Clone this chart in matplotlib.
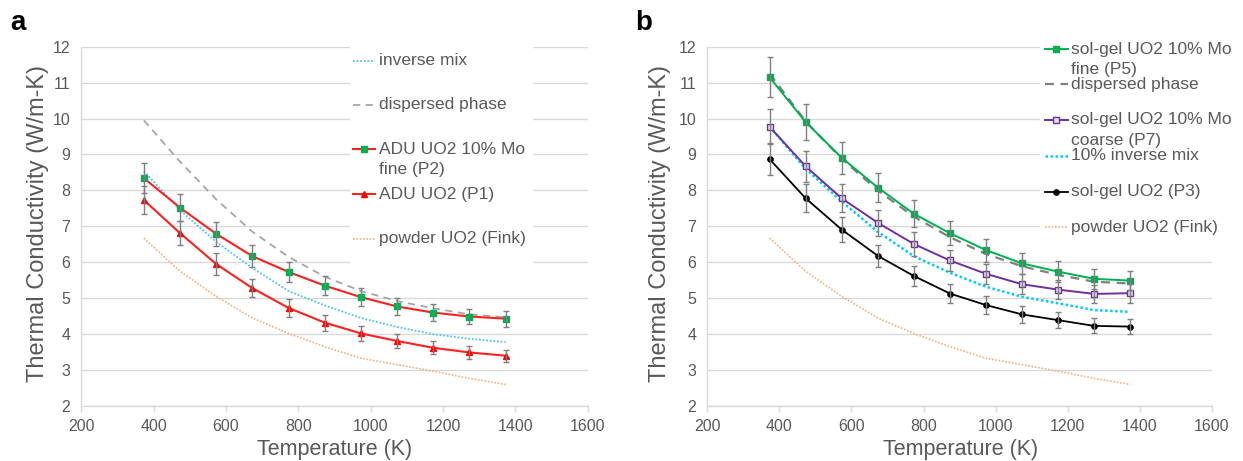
import matplotlib
matplotlib.use('Agg')
import matplotlib.pyplot as plt
from matplotlib.lines import Line2D
from matplotlib.patches import Rectangle

plt.rcParams['font.family'] = ['Liberation Sans', 'DejaVu Sans']

# Temperatures (K)
temps = [373, 473, 573, 673, 773, 873, 973, 1073, 1173, 1273, 1373]

# Panel a
a_inverse_mix = [8.54, 7.45, 6.57, 5.84, 5.20, 4.80, 4.45, 4.20, 4.00, 3.87, 3.78]
a_dispersed = [9.95, 8.80, 7.75, 6.85, 6.15, 5.60, 5.20, 4.92, 4.72, 4.55, 4.47]
a_p2 = [8.34, 7.52, 6.79, 6.17, 5.73, 5.35, 5.03, 4.77, 4.60, 4.49, 4.43]
a_p2_err = [0.42, 0.38, 0.34, 0.31, 0.29, 0.27, 0.25, 0.24, 0.23, 0.22, 0.22]
a_p1 = [7.73, 6.81, 5.95, 5.28, 4.73, 4.32, 4.02, 3.81, 3.62, 3.49, 3.40]
a_p1_err = [0.39, 0.34, 0.30, 0.26, 0.24, 0.22, 0.20, 0.19, 0.18, 0.17, 0.17]

# Fink correlation (both panels)
fink = [6.67, 5.75, 5.05, 4.45, 4.02, 3.65, 3.33, 3.15, 2.97, 2.77, 2.60]

# Panel b
b_p5 = [11.15, 9.90, 8.91, 8.08, 7.35, 6.81, 6.34, 5.97, 5.74, 5.54, 5.49]
b_p5_err = [0.56, 0.50, 0.45, 0.40, 0.37, 0.34, 0.32, 0.30, 0.29, 0.28, 0.27]
b_dispersed = [11.25, 9.92, 8.88, 8.00, 7.27, 6.70, 6.23, 5.89, 5.65, 5.46, 5.41]
b_p7 = [9.77, 8.67, 7.78, 7.10, 6.51, 6.05, 5.68, 5.39, 5.24, 5.12, 5.14]
b_p7_err = [0.49, 0.43, 0.39, 0.36, 0.33, 0.30, 0.28, 0.27, 0.26, 0.26, 0.26]
b_inverse_mix = [9.78, 8.60, 7.69, 6.85, 6.17, 5.71, 5.32, 5.04, 4.86, 4.67, 4.62]
b_p3 = [8.87, 7.78, 6.91, 6.18, 5.62, 5.13, 4.81, 4.55, 4.39, 4.23, 4.21]
b_p3_err = [0.44, 0.39, 0.35, 0.31, 0.28, 0.26, 0.24, 0.23, 0.22, 0.21, 0.21]

TXT = '#595959'
GRID = '#d9d9d9'
ERR = '#7f7f7f'

# line styles shared by plot and legend
S_FINK = dict(color='#f4b183', linestyle=(0, (1, 1)), linewidth=1.2)
S_INV_A = dict(color='#4fc3f7', linestyle=(0, (1, 1)), linewidth=1.3)
S_DISP_A = dict(color='#a6a6a6', linestyle=(0, (4, 3)), linewidth=1.3)
S_INV_B = dict(color='#00ccff', linestyle=(0, (1, 1)), linewidth=1.8)
S_DISP_B = dict(color='#808080', linestyle=(0, (4, 3)), linewidth=1.6)
S_P2 = dict(color='#ff2020', linewidth=1.5, marker='s', markersize=4.2,
            markerfacecolor='#00b050', markeredgecolor='#00b050')
S_P1 = dict(color='#ff2020', linewidth=1.5, marker='^', markersize=4.8,
            markerfacecolor='#ff0000', markeredgecolor='#ff0000')
S_P5 = dict(color='#00b050', linewidth=1.4, marker='s', markersize=4.0,
            markerfacecolor='#00b050', markeredgecolor='#00b050')
S_P7 = dict(color='#7030a0', linewidth=1.4, marker='s', markersize=4.0,
            markerfacecolor='#e6dcf0', markeredgecolor='#7030a0')
S_P3 = dict(color='#000000', linewidth=1.3, marker='o', markersize=3.8,
            markerfacecolor='#000000', markeredgecolor='#000000')


def style_axes(ax):
    ax.set_xlim(200, 1600)
    ax.set_ylim(2, 12)
    ax.set_xticks(range(200, 1601, 200))
    ax.set_yticks(range(2, 13))
    ax.grid(axis='y', color=GRID, linewidth=1.0)
    ax.set_axisbelow(True)
    for s in ['top', 'right']:
        ax.spines[s].set_visible(False)
    for s in ['left', 'bottom']:
        ax.spines[s].set_color(GRID)
        ax.spines[s].set_linewidth(1.0)
    ax.tick_params(axis='x', colors=GRID, length=4, width=1, labelcolor=TXT,
                   labelsize=11.5, pad=5)
    ax.tick_params(axis='y', length=0, labelcolor=TXT, labelsize=11.5, pad=8)
    ax.set_xlabel('Temperature (K)', fontsize=15.5, color=TXT)
    ax.set_ylabel('Thermal Conductivity (W/m-K)', fontsize=17, color=TXT)


def draw_legend(ax, box, handle_x, text_x, entries, lines):
    # box: (x0, y0, w, h) in axes fraction
    ax.add_patch(Rectangle(box[:2], box[2], box[3], transform=ax.transAxes,
                           facecolor='white', edgecolor='none', zorder=5,
                           clip_on=False))
    for y, style in entries:
        kw = dict(style)
        mk = kw.pop('marker', None)
        ms = kw.pop('markersize', 5)
        mfc = kw.pop('markerfacecolor', None)
        mec = kw.pop('markeredgecolor', None)
        ax.add_line(Line2D(handle_x, [y, y], transform=ax.transAxes,
                           zorder=6, clip_on=False, **kw))
        if mk:
            ax.add_line(Line2D([sum(handle_x) / 2], [y], transform=ax.transAxes,
                               zorder=7, clip_on=False, linestyle='none',
                               marker=mk, markersize=ms,
                               markerfacecolor=mfc, markeredgecolor=mec))
    for y, t in lines:
        ax.text(text_x, y, t, transform=ax.transAxes, fontsize=12.5,
                color=TXT, va='center', ha='left', zorder=7)


def add_errors(ax, vals, errs):
    ax.errorbar(temps, vals, yerr=errs, fmt='none', ecolor=ERR, elinewidth=1,
                capsize=2.5, capthick=1, zorder=4)


fig = plt.figure(figsize=(12.43, 4.61), dpi=100)
ax1 = fig.add_axes([0.0654, 0.1193, 0.4074, 0.7794])
ax2 = fig.add_axes([0.569, 0.1193, 0.406, 0.7794])

# ---- panel a ----
ax1.plot(temps, fink, **S_FINK)
ax1.plot(temps, a_inverse_mix, **S_INV_A)
ax1.plot(temps, a_dispersed, **S_DISP_A)
ax1.plot(temps, a_p1, zorder=3, **S_P1)
ax1.plot(temps, a_p2, zorder=3, **S_P2)
add_errors(ax1, a_p1, a_p1_err)
add_errors(ax1, a_p2, a_p2_err)
style_axes(ax1)
ax1.xaxis.set_label_coords(0.501, -0.093)
ax1.yaxis.set_label_coords(-0.064, 0.508)

draw_legend(
    ax1, (0.531, 0.351, 0.361, 0.68), [0.537, 0.580], 0.588,
    [(0.961, S_INV_A), (0.838, S_DISP_A), (0.715, S_P2),
     (0.590, S_P1), (0.465, S_FINK)],
    [(0.961, 'inverse mix'), (0.838, 'dispersed phase'),
     (0.715, 'ADU UO2 10% Mo'), (0.657, 'fine (P2)'),
     (0.590, 'ADU UO2 (P1)'), (0.465, 'powder UO2 (Fink)')])

# ---- panel b ----
ax2.plot(temps, fink, **S_FINK)
ax2.plot(temps, b_inverse_mix, **S_INV_B)
ax2.plot(temps, b_dispersed, **S_DISP_B)
ax2.plot(temps, b_p3, zorder=3, **S_P3)
ax2.plot(temps, b_p7, zorder=3, **S_P7)
ax2.plot(temps, b_p5, zorder=3, **S_P5)
add_errors(ax2, b_p3, b_p3_err)
add_errors(ax2, b_p7, b_p7_err)
add_errors(ax2, b_p5, b_p5_err)
style_axes(ax2)
ax2.xaxis.set_label_coords(0.501, -0.093)
ax2.yaxis.set_label_coords(-0.072, 0.508)

draw_legend(
    ax2, (0.659, 0.448, 0.40, 0.58), [0.669, 0.715], 0.720,
    [(0.993, S_P5), (0.896, S_DISP_B), (0.796, S_P7),
     (0.697, S_INV_B), (0.596, S_P3), (0.497, S_FINK)],
    [(0.993, 'sol-gel UO2 10% Mo'), (0.937, 'fine (P5)'),
     (0.896, 'dispersed phase'), (0.796, 'sol-gel UO2 10% Mo'),
     (0.740, 'coarse (P7)'), (0.697, '10% inverse mix'),
     (0.596, 'sol-gel UO2 (P3)'), (0.497, 'powder UO2 (Fink)')])

fig.text(0.008, 0.951, 'a', fontsize=20, fontweight='bold', va='center', ha='left')
fig.text(0.511, 0.951, 'b', fontsize=20, fontweight='bold', va='center', ha='left')

fig.savefig('out.png', dpi=100, facecolor='white')
